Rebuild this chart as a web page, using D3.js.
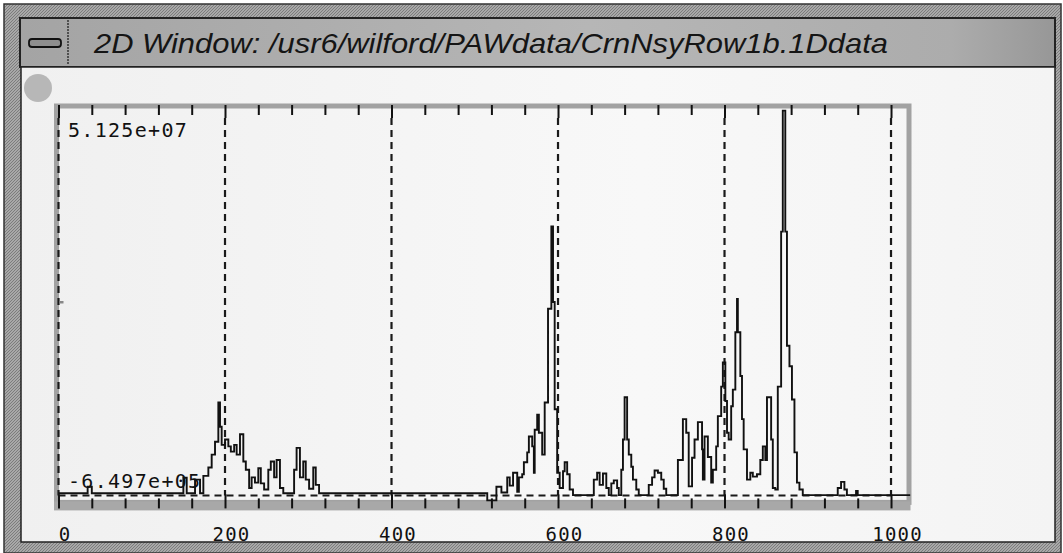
<!DOCTYPE html>
<html>
<head>
<meta charset="utf-8">
<script src="https://cdn.jsdelivr.net/npm/d3@7"></script>
<style>
  html, body { margin: 0; padding: 0; background: #ffffff; }
  svg { display: block; }
  .mono { font-family: "DejaVu Sans Mono", monospace; fill: #111; }
</style>
</head>
<body>
<div id="graphic"><div class="chart"></div></div>
<script>
// Histogram channels (bin start) and contents, in units of 1e6 counts
var channelStart = [
  0, 35, 40, 150, 154, 164, 170, 174, 180, 184, 188, 192, 194, 196, 200, 204, 207, 211, 214, 218,
  222, 225, 229, 232, 236, 240, 243, 247, 252, 255, 259, 262, 266, 270, 283, 286, 290, 294, 297, 301,
  306, 309, 313, 515, 526, 532, 539, 542, 546, 551, 553, 557, 559, 563, 565, 569, 571, 572, 575, 577,
  581, 584, 588, 592, 594, 596, 599, 602, 606, 608, 611, 614, 618, 643, 647, 650, 654, 658, 661, 664,
  667, 671, 673, 676, 678, 680, 683, 685, 688, 690, 694, 697, 709, 713, 716, 720, 724, 727, 730, 744,
  750, 754, 757, 761, 764, 768, 773, 774, 776, 780, 784, 786, 790, 792, 796, 798, 801, 803, 805, 808,
  810, 813, 815, 816, 819, 821, 823, 827, 831, 834, 839, 843, 846, 849, 851, 856, 858, 861, 864, 868,
  870, 873, 875, 878, 881, 884, 887, 890, 894, 936, 940, 944, 947, 958, 960
];
var counts = [
  0.3, 1.15, 0.3, 2.35, 0.3, 2.1, 0.3, 2.6, 3.7, 5.4, 7.1, 12.3, 9.1, 6.7, 7.4, 6.5, 5.8, 6.7, 5.4, 8.1,
  4.5, 3.4, 1.0, 2.4, 1.7, 3.6, 1.6, 0.8, 3.4, 4.5, 2.4, 4.7, 1.0, 0.3, 3.4, 6.3, 2.4, 4.5, 2.1, 0.9,
  3.7, 1.4, 0.3, -0.65, 1.15, 0.4, 2.4, 1.3, 3.0, 0.5, 2.4, 2.8, 4.4, 5.7, 7.8, 6.5, 3.0, 8.7, 10.7, 8.3,
  5.4, 12.3, 24.7, 35.6, 25.6, 11.4, 3.0, 1.0, 3.2, 4.4, 2.8, 0.8, 0.05, 2.1, 3.0, 1.4, 2.9, 1.0, 0.05, 1.6,
  2.0, 1.0, 0.05, 3.4, 7.4, 13.0, 7.4, 5.4, 3.8, 2.1, 0.8, 0.05, 1.4, 2.4, 3.3, 3.0, 2.1, 0.9, 0.05, 4.7,
  10.1, 8.3, 1.2, 5.0, 7.4, 9.7, 6.1, 2.1, 7.8, 5.1, 1.7, 3.4, 6.5, 10.5, 14.4, 17.6, 12.5, 8.3, 7.4, 11.8,
  14.0, 21.6, 26.0, 21.6, 15.8, 10.1, 6.1, 2.1, 3.0, 2.5, 2.8, 4.7, 6.5, 4.7, 13.0, 7.4, 1.0, 0.8, 14.4, 34.9,
  50.9, 34.9, 19.8, 17.1, 12.7, 5.7, 1.7, 0.8, 0.05, 1.0, 1.8, 0.8, 0.05, 0.6, 0.05
];

var xDomain = [0, 1024];
var yDomain = [-0.6497, 51.25];              // 1e6 counts
var xLabels = [0, 200, 400, 600, 800, 1000];
var yLabels = ["5.125e+07", "-6.497e+05"];
var windowTitle = "2D Window: /usr6/wilford/PAWdata/CrnNsyRow1b.1Ddata";

(function(window, document, d3) {
  draw();

  function draw() {
    var
    W = 1063, H = 553,
    plot = { left: 58.5, right: 911, top: 108, bottom: 500.4 }
    ;

    var chart = document.querySelector("#graphic .chart");
    chart.innerHTML = "";

    var svg = d3.select(chart).append("svg")
        .attr("width", W)
        .attr("height", H);

    var defs = svg.append("defs");

    // Textured window border
    var hatch = defs.append("pattern")
        .attr("id", "hatch")
        .attr("width", 3).attr("height", 3)
        .attr("patternUnits", "userSpaceOnUse");
    hatch.append("rect").attr("width", 3).attr("height", 3).attr("fill", "#a8a8a8");
    hatch.append("path").attr("d", "M0,3 L3,0").attr("stroke", "#7c7c7c").attr("stroke-width", 1);

    var titleGrad = defs.append("linearGradient").attr("id", "titleGrad");
    titleGrad.append("stop").attr("offset", "0%").attr("stop-color", "#a4a4a4");
    titleGrad.append("stop").attr("offset", "55%").attr("stop-color", "#b6b6b6");
    titleGrad.append("stop").attr("offset", "90%").attr("stop-color", "#acacac");
    titleGrad.append("stop").attr("offset", "100%").attr("stop-color", "#979797");

    var paper = defs.append("linearGradient").attr("id", "paper");
    paper.append("stop").attr("offset", "0%").attr("stop-color", "#f0f0f0");
    paper.append("stop").attr("offset", "60%").attr("stop-color", "#f8f8f8");
    paper.append("stop").attr("offset", "100%").attr("stop-color", "#f4f4f4");

    /*
      Window chrome: outer border, title bar, content area
    */
    svg.append("rect")
      .attr("x", 4).attr("y", 4).attr("width", W - 6).attr("height", H - 4)
      .attr("fill", "url(#hatch)")
      .attr("stroke", "#333").attr("stroke-width", 1.5);

    svg.append("rect")
      .attr("x", 20).attr("y", 18).attr("width", 1035).attr("height", 49)
      .attr("fill", "url(#titleGrad)")
      .attr("stroke", "#222").attr("stroke-width", 2);

    svg.append("line")
      .attr("x1", 68).attr("x2", 68).attr("y1", 20).attr("y2", 65)
      .attr("stroke", "#333").attr("stroke-width", 1.5)
      .attr("stroke-dasharray", "2,1");

    svg.append("rect")
      .attr("x", 29).attr("y", 39).attr("width", 32).attr("height", 8).attr("rx", 3)
      .attr("fill", "#8e8e8e")
      .attr("stroke", "#111").attr("stroke-width", 1.8);

    svg.append("text")
      .attr("x", 94).attr("y", 53)
      .attr("textLength", 794)
      .attr("lengthAdjust", "spacingAndGlyphs")
      .attr("font-family", "Liberation Sans Narrow, Liberation Sans, Arial, sans-serif")
      .attr("font-style", "italic")
      .attr("font-size", 28)
      .attr("fill", "#151515")
      .text(windowTitle);

    svg.append("rect")
      .attr("x", 21).attr("y", 67).attr("width", 1034).attr("height", 475)
      .attr("fill", "url(#paper)")
      .attr("stroke", "#222").attr("stroke-width", 1.5);

    svg.append("circle")
      .attr("cx", 38).attr("cy", 88).attr("r", 14)
      .attr("fill", "#b7b7b7");

    /*
      Scales
    */
    var x = d3.scaleLinear().domain(xDomain).range([plot.left, plot.right]);
    var y = d3.scaleLinear().domain(yDomain).range([plot.bottom, plot.top]);

    // Plot frame (grey band)
    svg.append("rect")
      .attr("x", plot.left - 2).attr("y", plot.top - 2)
      .attr("width", plot.right - plot.left).attr("height", plot.bottom - plot.top + 4)
      .attr("fill", "none")
      .attr("stroke", "#a2a2a2").attr("stroke-width", 5);

    svg.append("rect")
      .attr("x", plot.left - 4.5).attr("y", plot.bottom + 1)
      .attr("width", plot.right - plot.left + 4).attr("height", 9)
      .attr("fill", "#a8a8a8");

    /*
      Grid: dashed lines at the labelled x values and at y = 0
    */
    var grid = svg.append("g").attr("class", "grid");

    grid.selectAll("line.v")
        .data(xLabels)
      .enter().append("line")
        .attr("class", "v")
        .attr("x1", function(d) { return x(d); })
        .attr("x2", function(d) { return x(d); })
        .attr("y1", plot.top + 10)
        .attr("y2", y(0))
        .attr("stroke", "#1a1a1a")
        .attr("stroke-width", 2.2)
        .attr("stroke-dasharray", "7,5");

    grid.append("line")
      .attr("x1", x(0)).attr("x2", x(1000))
      .attr("y1", y(0)).attr("y2", y(0))
      .attr("stroke", "#1a1a1a")
      .attr("stroke-width", 1.8)
      .attr("stroke-dasharray", "7,5");

    /*
      Tick marks: minor every 40 channels, major every 200
    */
    var minor = d3.range(0, 1001, 40).filter(function(d) { return d % 200 != 0; });

    function ticks(g, gen) {
      g.call(gen);
      g.select(".domain").remove();
      g.selectAll(".tick line").attr("stroke", "#111").attr("stroke-width", 2);
    }

    svg.append("g").attr("transform", "translate(0," + (plot.top - 3) + ")")
      .call(ticks, d3.axisBottom(x).tickValues(minor).tickSize(10).tickFormat(""));
    svg.append("g").attr("transform", "translate(0," + (plot.top - 3) + ")")
      .call(ticks, d3.axisBottom(x).tickValues(xLabels).tickSize(13).tickFormat(""));

    svg.append("g").attr("transform", "translate(0," + (plot.bottom + 8) + ")")
      .call(ticks, d3.axisTop(x).tickValues(minor).tickSize(10).tickFormat(""));
    svg.append("g").attr("transform", "translate(0," + (plot.bottom + 8) + ")")
      .call(ticks, d3.axisTop(x).tickValues(xLabels).tickSize(14).tickFormat(""));

    // Small mid-height mark on the left frame
    svg.append("g").attr("transform", "translate(" + (plot.left + 1) + ",0)")
      .call(function(g) {
        g.call(d3.axisRight(y).tickValues([yDomain[1] / 2]).tickSize(4).tickFormat(""));
        g.select(".domain").remove();
        g.selectAll(".tick line").attr("stroke", "#888").attr("stroke-width", 2.5);
      });

    /*
      Histogram outline
    */
    var points = channelStart.map(function(c, i) { return [c, counts[i]]; });
    points.push([xDomain[1] - 1, counts[counts.length - 1]]);

    var line = d3.line()
        .x(function(d) { return x(d[0]); })
        .y(function(d) { return y(d[1]); })
        .curve(d3.curveStepAfter);

    svg.append("path")
      .datum(points)
      .attr("d", line)
      .attr("fill", "none")
      .attr("stroke", "#111")
      .attr("stroke-width", 1.9)
      .attr("stroke-linejoin", "miter");

    /*
      Labels: x values under the frame, y range in the corners
    */
    var xl = svg.append("g").attr("transform", "translate(6,541)")
        .call(d3.axisBottom(x).tickValues(xLabels).tickSize(0).tickPadding(0)
          .tickFormat(d3.format("d")));
    xl.select(".domain").remove();
    xl.selectAll(".tick text")
      .attr("class", "mono")
      .attr("dy", 0)
      .attr("font-size", 19)
      .attr("letter-spacing", 1.2)
      .attr("fill", "#111");

    svg.append("text")
      .attr("class", "mono")
      .attr("x", 68).attr("y", 137)
      .attr("font-size", 20)
      .attr("letter-spacing", 1.3)
      .text(yLabels[0]);

    svg.append("text")
      .attr("class", "mono")
      .attr("x", 68).attr("y", 488)
      .attr("font-size", 20)
      .attr("letter-spacing", 1.3)
      .text(yLabels[1]);
  }
})(window, document, d3);
</script>
</body>
</html>
